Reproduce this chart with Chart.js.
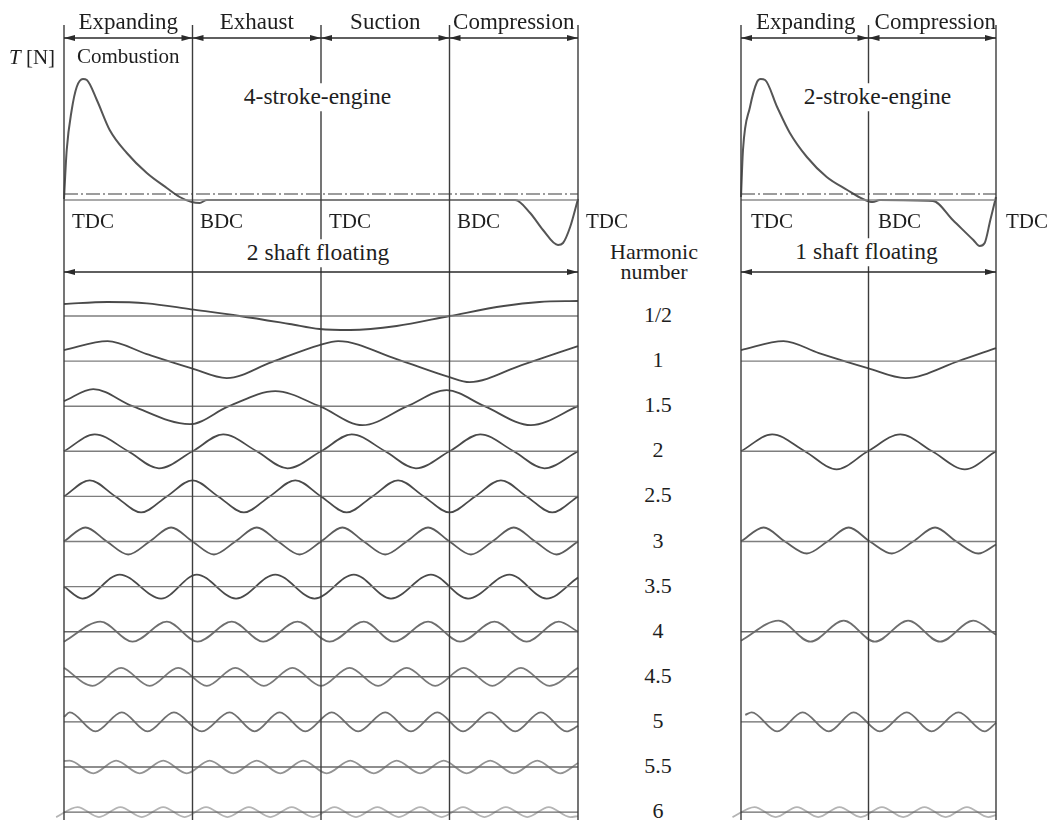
<!DOCTYPE html>
<html>
<head>
<meta charset="utf-8">
<script src="https://cdn.jsdelivr.net/npm/chart.js@4.4.1/dist/chart.umd.min.js"></script>
<style>
  body { margin: 0; background: #fff; }
  #page { position: relative; width: 1052px; height: 820px; overflow: hidden; font-family: "Liberation Serif", "Times New Roman", serif; color: #1e1e1e; }
  canvas { position: absolute; top: 0; }
  .lb { position: absolute; line-height: 1; white-space: nowrap; transform: translate(-50%, -50%); }
  .bg { background: #fff; padding: 2px 1px; }
</style>
</head>
<body>
<div id="page">
  <canvas id="left" width="554" height="820" style="left:44px"></canvas>
  <canvas id="right" width="295" height="820" style="left:721px"></canvas>
</div>
<script>
// crank angle in degrees, torque / harmonic amplitude in drawing units (above zero line)

// torque over one 4-stroke cycle (0..720)
var t4Deg = [0, 3.8, 10.8, 17.8, 26.6, 32, 46, 64, 88, 116, 144, 162, 179, 190, 200, 632, 653, 671, 692, 699, 709, 720]
var t4Val = [1, 50, 90, 113, 121, 120, 100, 70, 47, 27, 12, 3, -2, -3, 0, 0, -13, -30, -45, -43, -27, 1]
// torque over one 2-stroke cycle (0..360)
var t2Deg = [0, 2.8, 12.7, 22.6, 27.8, 34, 51, 69, 93, 121, 150, 172, 186, 196, 271, 299, 328, 337, 344, 352, 360]
var t2Val = [3, 50, 93, 118, 121, 120, 93, 67, 43, 23, 10, 1, -2, 0, -1, -20, -40, -46, -43, -20, 3]
var meanTorque = 6

var strokes4 = ['Expanding', 'Exhaust', 'Suction', 'Compression']
var strokes2 = ['Expanding', 'Compression']
var deadCentres4 = ['TDC', 'BDC', 'TDC', 'BDC', 'TDC']
var deadCentres2 = ['TDC', 'BDC', 'TDC']
var harmonicNumbers = ['1/2', '1', '1.5', '2', '2.5', '3', '3.5', '4', '4.5', '5', '5.5', '6']

// 4-stroke harmonics (0..720)
var h05Deg = [0, 61, 116, 178, 246, 316, 358, 401, 466, 540, 616, 666, 720]
var h05Val = [12, 14, 12.7, 6.7, 0, -8, -13, -14, -10, 0, 10, 14, 15]
var h1Deg = [0, 61, 116, 178, 228, 291, 358, 384, 466, 540, 568, 641, 720]
var h1Val = [11, 20, 7, -7, -17, -1, 16, 20, 2, -16, -21, -4, 15]
var h15Deg = [0, 41, 96, 176, 231, 296, 358, 418, 481, 536, 589, 654, 720]
var h15Val = [5, 17, 0, -18, 0, 15, 0, -19, 0, 16, 0, -19, 0]
var h2Deg = [0, 43, 90, 133, 180, 223, 270, 313, 360, 403, 450, 493, 540, 583, 630, 673, 720]
var h2Val = [0, 17, 0, -17, 0, 17, 0, -17, 0, 17, 0, -17, 0, 17, 0, -17, 0]
var h25Deg = [0, 36, 72, 108, 144, 180, 216, 252, 288, 324, 360, 396, 432, 468, 504, 540, 576, 612, 648, 684, 720]
var h25Val = [0, 16, 0, -16, 0, 16, 0, -16, 0, 16, 0, -16, 0, 16, 0, -16, 0, 16, 0, -16, 0]
var h3Deg = [0, 30, 60, 90, 120, 150, 180, 210, 240, 270, 300, 330, 360, 390, 420, 450, 480, 510, 540, 570, 600, 630, 660, 690, 720]
var h3Val = [0, 14, 0, -13, 0, 14, 0, -13, 0, 14, 0, -13, 0, 14, 0, -13, 0, 14, 0, -13, 0, 14, 0, -13, 0]
var h35Deg = [0, 26, 78, 136, 186, 241, 296, 351, 406, 458, 514, 566, 624, 676, 720]
var h35Val = [0, -12, 12, -12, 12, -12, 12, -12, 12, -12, 12, -12, 12, -12, 9]
var h4Deg = [0, 51, 96, 144, 187, 235, 279, 327, 372, 420, 462, 510, 555, 603, 648, 693, 720]
var h4Val = [-10, 10, -10, 10, -10, 10, -10, 10, -10, 10, -10, 10, -10, 10, -10, 10, 0]
var h45Deg = [0, 40, 80, 120, 160, 200, 240, 280, 320, 360, 400, 440, 480, 520, 560, 600, 640, 680, 720]
var h45Val = [9, -9, 9, -9, 9, -9, 9, -9, 9, -9, 9, -9, 9, -9, 9, -9, 9, -9, 9]
var h5Deg = [0, 8, 44, 81, 117, 154, 193, 232, 267, 302, 338, 375, 412, 450, 486, 523, 559, 596, 632, 668, 704, 720]
var h5Val = [5, 9.5, -9.5, 9.5, -9.5, 9.5, -9.5, 9.5, -9.5, 9.5, -9.5, 9.5, -9.5, 9.5, -9.5, 9.5, -9.5, 9.5, -9.5, 9.5, -9.5, -4]
var h55Deg = [0, 8, 41, 73, 106, 139, 172, 204, 237, 270, 303, 335, 368, 401, 434, 466, 499, 532, 564, 597, 630, 663, 695, 720]
var h55Val = [6, 6.3, -6.3, 6.3, -6.3, 6.3, -6.3, 6.3, -6.3, 6.3, -6.3, 6.3, -6.3, 6.3, -6.3, 6.3, -6.3, 6.3, -6.3, 6.3, -6.3, 6.3, -6.3, 4]
var h6Deg = [-11, 19, 49, 79, 109, 139, 169, 199, 229, 259, 289, 319, 349, 379, 409, 439, 469, 499, 529, 559, 589, 619, 649, 679, 709, 720]
var h6Val = [-5, 5, -5, 5, -5, 5, -5, 5, -5, 5, -5, 5, -5, 5, -5, 5, -5, 5, -5, 5, -5, 5, -5, 5, -5, -4]

// 2-stroke harmonics (0..360)
var r1Deg = [0, 60, 110, 179, 232, 307, 360]
var r1Val = [11, 20, 8, -7, -17, 0, 13]
var r2Deg = [0, 44, 90, 135, 179, 225, 270, 316, 360]
var r2Val = [0, 17, 0, -18, 0, 17, 0, -18, 0]
var r3Deg = [0, 32, 62, 93, 122, 152, 182, 213, 243, 274, 304, 335, 360]
var r3Val = [0, 14, 0, -12, 0, 14, 0, -12, 0, 14, 0, -12, -3]
var r4Deg = [0, 53, 98, 145, 189, 236, 281, 328, 360]
var r4Val = [-9, 11, -10, 11, -10, 11, -10, 11, -3]
var r5Deg = [6, 15, 51, 87, 124, 159, 196, 234, 269, 307, 344, 360]
var r5Val = [7, 9.5, -9.5, 9.5, -9.5, 9.5, -9.5, 9.5, -9.5, 9.5, -9.5, -1]
var r6Deg = [-12, 19, 49, 79, 109, 139, 169, 199, 229, 259, 289, 319, 349, 360]
var r6Val = [-5, 5, -5, 5, -5, 5, -5, 5, -5, 5, -5, 5, -5, -3]

// layout (page pixels)
var ZERO_Y = 200
var ROW_Y0 = 316
var ROW_GAP = 45.1
var LINE_TOP = 25
var ARROW_TOP = 38
var ARROW_BOTTOM = 272

var rowColors = ['#4a4a4a', '#4a4a4a', '#4a4a4a', '#4a4a4a', '#4a4a4a', '#5c5c5c', '#4a4a4a', '#6e6e6e', '#7a7a7a', '#707070', '#939393', '#b4b4b4']

function pts(degs, vals, base) {
    return degs.map(function (d, i) { return { x: d, y: base - vals[i] } })
}
function seg(x1, y1, x2, y2) {
    return [{ x: x1, y: y1 }, { x: x2, y: y2 }]
}
function rowY(i) { return ROW_Y0 + i * ROW_GAP }

function buildSets(span, torqueDeg, torqueVal, rows) {
    var sets = []
    // stroke boundaries
    for (var d = 0; d <= span; d += 180) {
        sets.push({ data: seg(d, LINE_TOP, d, 820), borderColor: '#3c3c3c', borderWidth: 1.4 })
    }
    // zero line and mean torque
    sets.push({ data: seg(0, ZERO_Y, span, ZERO_Y), borderColor: '#8c8c8c', borderWidth: 1.3 })
    sets.push({ data: seg(0, ZERO_Y - meanTorque, span, ZERO_Y - meanTorque), borderColor: '#3a3a3a', borderWidth: 1.2, borderDash: [14, 3, 2, 3] })
    sets.push({ data: pts(torqueDeg, torqueVal, ZERO_Y), borderColor: '#555', borderWidth: 2, cubicInterpolationMode: 'monotone' })
    rows.forEach(function (r) {
        var base = rowY(r.idx)
        sets.push({ data: seg(0, base, span, base), borderColor: r.idx > 6 ? '#686868' : '#7e7e7e', borderWidth: 1.4 })
        sets.push({ data: pts(r.deg, r.val, base), borderColor: rowColors[r.idx], borderWidth: 1.8, cubicInterpolationMode: 'monotone' })
    })
    return sets
}

function drawArrow(ctx, xa, xb, y) {
    ctx.beginPath()
    ctx.moveTo(xa, y)
    ctx.lineTo(xb, y)
    ctx.stroke()
    ;[[xa, 1], [xb, -1]].forEach(function (a) {
        ctx.beginPath()
        ctx.moveTo(a[0], y)
        ctx.lineTo(a[0] + a[1] * 11, y - 3)
        ctx.lineTo(a[0] + a[1] * 11, y + 3)
        ctx.closePath()
        ctx.fill()
    })
}

var arrowPlugin = {
    id: 'arrows',
    afterDatasetsDraw: function (chart, args, opts) {
        var ctx = chart.ctx, xs = chart.scales.x, ys = chart.scales.y
        ctx.save()
        ctx.strokeStyle = '#2a2a2a'
        ctx.fillStyle = '#2a2a2a'
        ctx.lineWidth = 1.3
        opts.top.forEach(function (s) {
            drawArrow(ctx, xs.getPixelForValue(s[0]), xs.getPixelForValue(s[1]), ys.getPixelForValue(ARROW_TOP))
        })
        drawArrow(ctx, xs.getPixelForValue(0), xs.getPixelForValue(opts.span), ys.getPixelForValue(ARROW_BOTTOM))
        ctx.restore()
    }
}

function makeChart(id, span, sets, topSegs) {
    sets.forEach(function (s) { s.pointRadius = 0; s.fill = false; s.clip = false })
    return new Chart(document.getElementById(id), {
        type: 'line',
        data: { datasets: sets },
        options: {
            responsive: false,
            animation: false,
            events: [],
            layout: { padding: { left: 20, right: 20, top: 0, bottom: 0 } },
            scales: {
                x: { type: 'linear', min: 0, max: span, display: false },
                y: { type: 'linear', min: 0, max: 820, reverse: true, display: false }
            },
            plugins: {
                legend: { display: false },
                tooltip: { enabled: false },
                arrows: { top: topSegs, span: span }
            }
        },
        plugins: [arrowPlugin]
    })
}

var leftRows = [
    { idx: 0, deg: h05Deg, val: h05Val }, { idx: 1, deg: h1Deg, val: h1Val },
    { idx: 2, deg: h15Deg, val: h15Val }, { idx: 3, deg: h2Deg, val: h2Val },
    { idx: 4, deg: h25Deg, val: h25Val }, { idx: 5, deg: h3Deg, val: h3Val },
    { idx: 6, deg: h35Deg, val: h35Val }, { idx: 7, deg: h4Deg, val: h4Val },
    { idx: 8, deg: h45Deg, val: h45Val }, { idx: 9, deg: h5Deg, val: h5Val },
    { idx: 10, deg: h55Deg, val: h55Val }, { idx: 11, deg: h6Deg, val: h6Val }
]
var rightRows = [
    { idx: 1, deg: r1Deg, val: r1Val }, { idx: 3, deg: r2Deg, val: r2Val },
    { idx: 5, deg: r3Deg, val: r3Val }, { idx: 7, deg: r4Deg, val: r4Val },
    { idx: 9, deg: r5Deg, val: r5Val }, { idx: 11, deg: r6Deg, val: r6Val }
]

var leftChart = makeChart('left', 720, buildSets(720, t4Deg, t4Val, leftRows), [[0, 180], [180, 360], [360, 540], [540, 720]])
var rightChart = makeChart('right', 360, buildSets(360, t2Deg, t2Val, rightRows), [[0, 180], [180, 360]])

// text labels, placed from the chart scales
var page = document.getElementById('page')
function label(html, x, y, size, cls) {
    var el = document.createElement('div')
    el.className = 'lb' + (cls ? ' ' + cls : '')
    el.innerHTML = html
    el.style.left = x + 'px'
    el.style.top = y + 'px'
    el.style.fontSize = size + 'px'
    page.appendChild(el)
    return el
}
function pageX(chart, deg) {
    return chart.canvas.offsetLeft + chart.scales.x.getPixelForValue(deg)
}

strokes4.forEach(function (s, i) { label(s, pageX(leftChart, i * 180 + 90), 21, 23) })
strokes2.forEach(function (s, i) { label(s, pageX(rightChart, i * 180 + 90) + (i ? 3 : 1), 21, 23) })
deadCentres4.forEach(function (s, i) { label(s, pageX(leftChart, i * 180) + 29, 221, 21) })
deadCentres2.forEach(function (s, i) { label(s, pageX(rightChart, i * 180) + 31, 221, 21) })

label('<i>T</i> [N]', 32, 57, 21)
label('Combustion', pageX(leftChart, 90), 56, 21)
label('4-stroke-engine', pageX(leftChart, 358) - 2, 97, 23.5, 'bg')
label('2-stroke-engine', pageX(rightChart, 180) + 9, 97, 23.5, 'bg')
label('2 shaft floating', pageX(leftChart, 360) - 3, 253, 23.5, 'bg')
label('1 shaft floating', pageX(rightChart, 180) - 2, 252, 23.5, 'bg')
label('Harmonic', 654, 252, 22)
label('number', 654, 272, 22)
harmonicNumbers.forEach(function (h, i) { label(h, 658, rowY(i) - 1, 22) })
</script>
</body>
</html>
